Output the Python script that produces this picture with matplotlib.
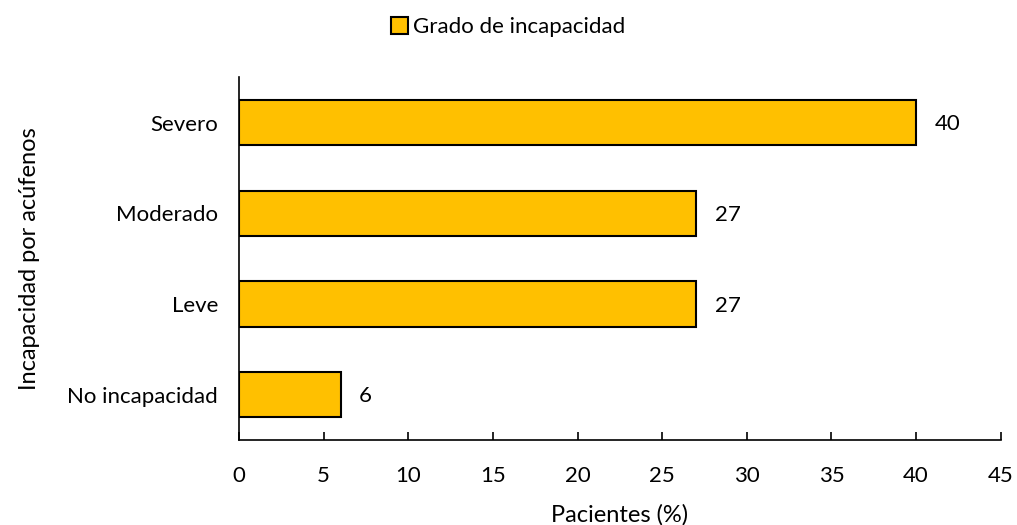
import matplotlib
matplotlib.use("Agg")
import matplotlib.pyplot as plt
from matplotlib.patches import Patch

plt.rcParams['font.family'] = ['Lato', 'DejaVu Sans']

# data
categorias = ["No incapacidad", "Leve", "Moderado", "Severo"]
pacientes = [6, 27, 27, 40]
x_ticks = [0, 5, 10, 15, 20, 25, 30, 35, 40, 45]
serie = "Grado de incapacidad"

fig = plt.figure(figsize=(10.17, 5.25), dpi=100)
ax = fig.add_axes([0.235, 0.162, 0.749, 0.691])

bars = ax.barh(range(len(categorias)), pacientes, height=0.5,
               color="#FFC000", edgecolor="black", linewidth=1.5)

for i, v in enumerate(pacientes):
    ax.text(v + 1.1, i - 0.02, str(v), va="center", ha="left", fontsize=16)

ax.set_xlim(0, 45)
ax.set_ylim(-0.5, len(categorias) - 0.5)
ax.set_xticks(x_ticks)
ax.set_yticks(range(len(categorias)))
ax.set_yticklabels(categorias)
ax.tick_params(axis="x", direction="in", length=6, width=1.2, pad=19, labelsize=16)
ax.tick_params(axis="y", length=0, pad=15, labelsize=16)

for s in ["top", "right"]:
    ax.spines[s].set_visible(False)
for s in ["left", "bottom"]:
    ax.spines[s].set_linewidth(1.2)

ax.set_xlabel("Pacientes (%)", fontsize=17, labelpad=13)
ax.set_ylabel("Incapacidad por acúfenos", fontsize=17, labelpad=20)

handle = Patch(facecolor="#FFC000", edgecolor="black", linewidth=1.5)
fig.legend([handle], [serie], loc="upper center", bbox_to_anchor=(0.5, 1.005),
           frameon=False, fontsize=16, handlelength=0.75, handleheight=0.75,
           handletextpad=0.25)

fig.savefig("out.png", dpi=100)
